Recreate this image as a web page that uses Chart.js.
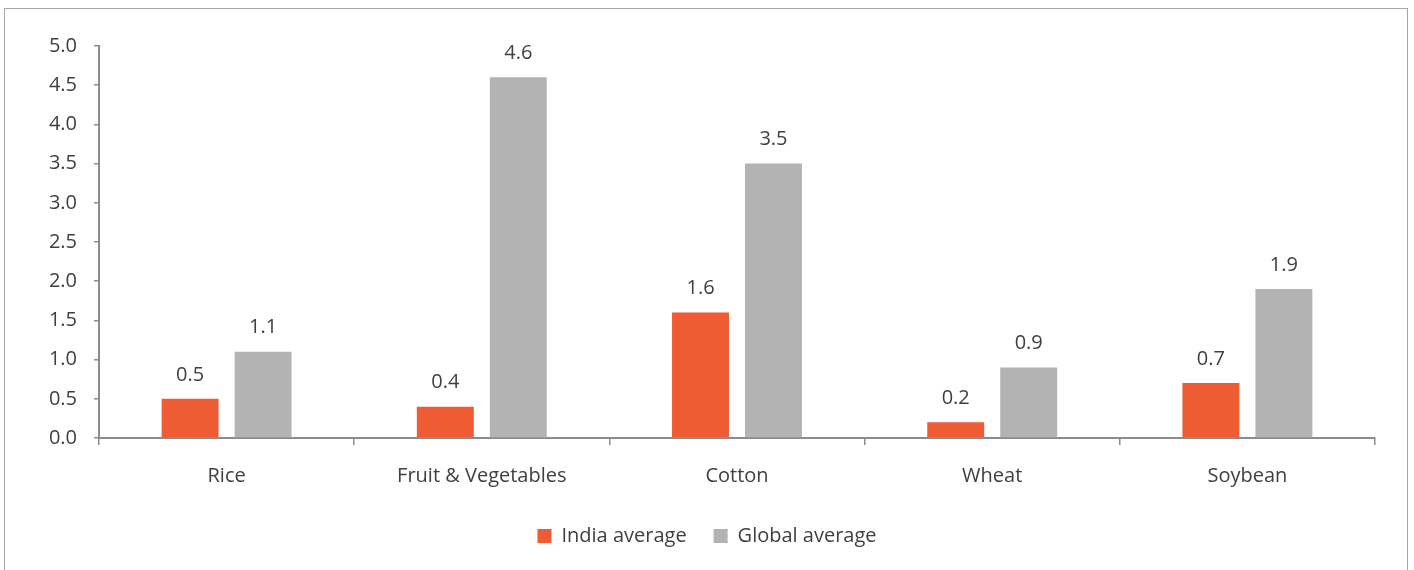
<!DOCTYPE html>
<html>
<head>
<meta charset="utf-8">
<script src="https://cdn.jsdelivr.net/npm/chart.js@4.4.1/dist/chart.umd.min.js"></script>
<style>
  html, body { margin: 0; padding: 0; background: #fff; }
  #frame {
    position: absolute; left: 4px; top: 8px; width: 1404px; height: 580px;
    border: 1.5px solid #a6a6a6; box-sizing: border-box;
  }
  #wrap { position: absolute; left: 0; top: 0; width: 1414px; height: 570px; }
</style>
</head>
<body>
<div id="frame"></div>
<div id="wrap"><canvas id="chartYield"></canvas></div>
<script>
  var crops = ['Rice', 'Fruit & Vegetables', 'Cotton', 'Wheat', 'Soybean'];
  var indiaAvg = [0.5, 0.4, 1.6, 0.2, 0.7];
  var globalAvg = [1.1, 4.6, 3.5, 0.9, 1.9];
  var yTicks = [0, 0.5, 1, 1.5, 2, 2.5, 3, 3.5, 4, 4.5, 5];

  var textColor = '#404040';
  var axisColor = '#8c8c8c';
  var fontFamily = '"Open Sans", sans-serif';
  var fontSize = 20;

  // valores encima de cada barra
  var barValues = {
    id: 'barValues',
    afterDatasetsDraw: function (chart) {
      var ctx = chart.ctx;
      ctx.save();
      ctx.font = fontSize + 'px ' + fontFamily;
      ctx.fillStyle = textColor;
      ctx.textAlign = 'center';
      ctx.textBaseline = 'middle';
      chart.data.datasets.forEach(function (ds, i) {
        chart.getDatasetMeta(i).data.forEach(function (bar, j) {
          ctx.fillText(ds.data[j].toFixed(1), bar.x, bar.y - 24);
        });
      });
      ctx.restore();
    },
  };

  // leyenda centrada en todo el lienzo, no solo en el area con padding
  var legendFullWidth = {
    id: 'legendFullWidth',
    afterLayout: function (chart) {
      if (!chart.legend) return;
      chart.legend.left = 0;
      chart.legend.right = chart.width;
      chart.legend.width = chart.width;
    },
  };

  var ctx = document.getElementById('chartYield').getContext('2d');
  var chartYield = new Chart(ctx, {
    type: 'bar',
    plugins: [barValues, legendFullWidth],
    data: {
      labels: crops,
      datasets: [
        {
          label: 'India average',
          data: indiaAvg,
          backgroundColor: '#ef5b32',
          categoryPercentage: 0.572,
          barPercentage: 0.78,
        },
        {
          label: 'Global average',
          data: globalAvg,
          backgroundColor: '#b3b3b3',
          categoryPercentage: 0.572,
          barPercentage: 0.78,
        },
      ],
    },
    options: {
      responsive: true,
      maintainAspectRatio: false,
      animation: false,
      layout: { padding: { top: 46, right: 39, left: 0, bottom: 14 } },
      scales: {
        x: {
          grid: {
            display: true,
            drawOnChartArea: false,
            drawTicks: true,
            tickLength: 7,
            color: axisColor,
            lineWidth: 1.5,
            offset: true,
          },
          border: { color: axisColor, width: 2 },
          ticks: {
            color: textColor,
            font: { size: fontSize, family: fontFamily },
            padding: 19,
          },
          afterFit: function (scale) {
            scale.height = 61;
          },
        },
        y: {
          min: 0,
          max: 5,
          afterBuildTicks: function (scale) {
            scale.ticks = yTicks.map(function (v) {
              return { value: v };
            });
          },
          grid: {
            display: true,
            drawOnChartArea: false,
            drawTicks: true,
            tickLength: 5,
            color: axisColor,
            lineWidth: 1.5,
          },
          border: { color: axisColor, width: 2 },
          ticks: {
            color: textColor,
            font: { size: fontSize, family: fontFamily },
            padding: 17,
            callback: function (v) {
              return Number(v).toFixed(1);
            },
          },
          afterFit: function (scale) {
            scale.width = 99;
          },
        },
      },
      plugins: {
        tooltip: { enabled: false },
        legend: {
          display: true,
          position: 'bottom',
          labels: {
            color: textColor,
            font: { size: fontSize, family: fontFamily },
            boxWidth: 14,
            boxHeight: 14,
            padding: 27,
          },
        },
      },
    },
  });
</script>
</body>
</html>
